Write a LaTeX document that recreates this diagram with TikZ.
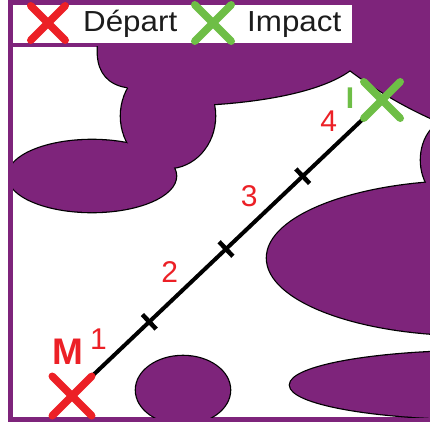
\documentclass[tikz,border=0pt]{standalone}
\usepackage{fontspec}
\setmainfont{Liberation Sans}
\usetikzlibrary{calc,shapes.misc}
\definecolor{blobpurple}{RGB}{126,36,123}
\definecolor{departred}{RGB}{236,32,38}
\definecolor{impactgreen}{RGB}{110,190,70}
\definecolor{legendtext}{RGB}{28,28,28}
\tikzset{
  crossmark/.style={cross out, draw=#1, line width=7.5pt, line cap=round, minimum size=30pt, inner sep=0pt},
  legendlabel/.style={anchor=base west, inner sep=0pt, text=legendtext, font=\fontsize{29}{29}\selectfont, xscale=1.08},
  numlabel/.style={inner sep=0pt, text=departred, font=\fontsize{30}{30}\selectfont},
  tickmark/.style={line width=4.5pt, black},
}
\begin{document}
\begin{tikzpicture}[x=1pt,y=-1pt]
\useasboundingbox (0,0) rectangle (430,425);
% frame and legend box
\fill[blobpurple] (8,0) rectangle (430,422);
\fill[white] (13,47) rectangle (430,417);
\fill[white] (13,5) rectangle (352,43);
% purple blobs, black outline first then the fill
\begin{scope}
\clip (13,47) rectangle (430,417);
\foreach \c/\w in {black/2.6pt, blobpurple/0.01pt} {
  \filldraw[fill=\c, draw=\c, line width=\w] (98,30) -- (98,55) .. controls (99,72) and (108,84) .. (127,87)
    -- (169,116) -- (214,104) .. controls (260,101) and (320,92) .. (350,70)
    .. controls (370,85) and (400,105) .. (440,122) -- (440,30) -- cycle;
  \filldraw[fill=\c, draw=\c, line width=\w] (168,116) ellipse [x radius=47, y radius=52];
  \filldraw[fill=\c, draw=\c, line width=\w] (92,176) ellipse [x radius=84, y radius=36];
  \filldraw[fill=\c, draw=\c, line width=\w] (451,160) ellipse [x radius=30, y radius=40];
  \filldraw[fill=\c, draw=\c, line width=\w] (470,258) ellipse [x radius=203, y radius=77];
  \filldraw[fill=\c, draw=\c, line width=\w] (480,385) ellipse [x radius=190, y radius=34];
  \filldraw[fill=\c, draw=\c, line width=\w] (183,390) ellipse [x radius=47, y radius=34];
}
\end{scope}
% legend
\node[crossmark=departred, minimum size=27pt] (legdep) at (48,23) {};
\node[legendlabel] (legdeptext) at (83,32) {Départ};
\node[crossmark=impactgreen, minimum size=29pt] (legimp) at (213,23) {};
\node[legendlabel] (legimptext) at (247,32) {Impact};
% trajectory from M to I
\coordinate (m) at (89,379);
\coordinate (i) at (363,119);
\draw[line width=4pt, black, line cap=round] (m) -- (i);
\foreach \p in {0.22,0.5,0.78} % edit here for the ticks
  \draw[tickmark] ($(m)!\p!(i)$) coordinate (t) ($(t)!10pt!90:(i)$) -- ($(t)!10pt!-90:(i)$);
\foreach \p/\n in {0.09/1,0.35/2,0.64/3,0.93/4} % edit here for the numbers
  \path ($(m)!\p!(i)$) coordinate (c) node[numlabel] (num\n) at ($(c)!22pt!90:(i)$) {\n};
\node[crossmark=departred, minimum size=32pt] (depart) at (72,396) {};
\node[crossmark=impactgreen, minimum size=29pt] (impact) at (382,100) {};
\node[inner sep=0pt, text=departred, font=\bfseries\fontsize{37}{37}\selectfont] (mlabel) at (68,352) {M};
\node[inner sep=0pt, text=impactgreen, font=\bfseries\fontsize{30}{30}\selectfont] (ilabel) at (350,98) {I};
\end{tikzpicture}
\end{document}
